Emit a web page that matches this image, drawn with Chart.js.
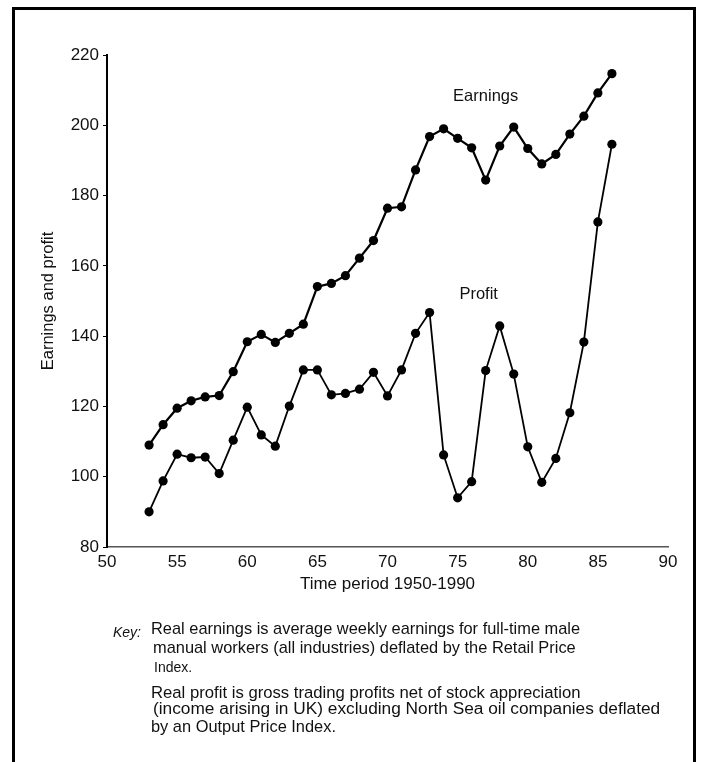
<!DOCTYPE html>
<html>
<head>
<meta charset="utf-8">
<script src="https://cdn.jsdelivr.net/npm/chart.js@4.4.1/dist/chart.umd.min.js"></script>
<style>
    body { margin: 0; background: #fff; }
    #page { position: relative; width: 701px; height: 762px; overflow: hidden; font-family: "Liberation Sans", Arial, sans-serif; color: #111; }
    #frame { position: absolute; left: 12px; top: 7px; width: 678px; height: 800px; border: 3px solid #000; border-bottom: none; }
    #chart { position: absolute; left: 0; top: 0; }
    .key { position: absolute; font-size: 16.4px; line-height: 19px; white-space: nowrap; }
</style>
</head>
<body>
<div id="page">
    <div id="frame"></div>
    <canvas id="chart" width="701" height="762"></canvas>
    <div class="key" style="left:113px; top:623px; font-style:italic; font-size:14px;">Key:</div>
    <div class="key" style="left:151px; top:619px;">Real earnings is average weekly earnings for full-time male</div>
    <div class="key" style="left:153px; top:638px;">manual workers (all industries) deflated by the Retail Price</div>
    <div class="key" style="left:154px; top:658px; font-size:14px;">Index.</div>
    <div class="key" style="left:151px; top:683px; font-size:16.7px;">Real profit is gross trading profits net of stock appreciation</div>
    <div class="key" style="left:153px; top:699px; font-size:17.3px;">(income arising in UK) excluding North Sea oil companies deflated</div>
    <div class="key" style="left:151px; top:717px;">by an Output Price Index.</div>
</div>
<script>
const years = [53, 54, 55, 56, 57, 58, 59, 60, 61, 62, 63, 64, 65, 66, 67, 68, 69,
    70, 71, 72, 73, 74, 75, 76, 77, 78, 79, 80, 81, 82, 83, 84, 85, 86];

const earnings = [109.0, 114.8, 119.5, 121.6, 122.7, 123.1, 129.9, 138.4, 140.5, 138.2, 140.8, 143.4,
    154.1, 155.0, 157.2, 162.2, 167.2, 176.4, 176.8, 187.3, 196.8, 199.0, 196.3, 193.6,
    184.4, 194.1, 199.5, 193.4, 189.0, 191.7, 197.5, 202.6, 209.2, 214.7];

const profit = [90.0, 98.8, 106.4, 105.4, 105.6, 100.9, 110.4, 119.8, 111.9, 108.7, 120.1, 130.4,
    130.4, 123.3, 123.7, 124.9, 129.7, 123.0, 130.4, 140.8, 146.7, 106.2, 94.0, 98.6,
    130.2, 142.9, 129.2, 108.5, 98.4, 105.2, 118.2, 138.3, 172.5, 194.6];

// series names written next to the lines, in data coordinates
const seriesLabels = [
    { text: 'Earnings', x: 77.0, y: 208.3 },
    { text: 'Profit', x: 76.5, y: 151.9 }
];

const xTitle = 'Time period 1950-1990';
const yTitle = 'Earnings and profit';

Chart.defaults.font.family = '"Liberation Sans", Arial, sans-serif';
Chart.defaults.color = '#111';

function toPoints(values) {
    return years.map((yr, i) => ({ x: yr, y: values[i] }));
}

const lineLabels = {
    id: 'lineLabels',
    afterDatasetsDraw(chart) {
        const ctx = chart.ctx;
        const xs = chart.scales.x;
        const ys = chart.scales.y;
        ctx.save();
        ctx.font = '16.5px "Liberation Sans", Arial, sans-serif';
        ctx.fillStyle = '#111';
        ctx.textAlign = 'center';
        ctx.textBaseline = 'middle';
        seriesLabels.forEach(l => {
            ctx.fillText(l.text, xs.getPixelForValue(l.x), ys.getPixelForValue(l.y));
        });
        ctx.restore();
    }
};

new Chart(document.querySelector('#chart').getContext('2d'), {
    type: 'line',
    data: {
        datasets: [{
            label: 'Earnings',
            data: toPoints(earnings),
            borderColor: '#000',
            backgroundColor: '#000',
            borderWidth: 2.2,
            pointRadius: 4.6,
            pointBackgroundColor: '#000',
            pointBorderWidth: 0,
            tension: 0
        }, {
            label: 'Profit',
            data: toPoints(profit),
            borderColor: '#000',
            backgroundColor: '#000',
            borderWidth: 1.8,
            pointRadius: 4.6,
            pointBackgroundColor: '#000',
            pointBorderWidth: 0,
            tension: 0
        }]
    },
    options: {
        responsive: false,
        animation: false,
        layout: { padding: { left: 0, top: 55, right: 33, bottom: 165 } },
        plugins: {
            legend: { display: false },
            tooltip: { enabled: false }
        },
        scales: {
            x: {
                type: 'linear',
                min: 50,
                max: 90,
                afterFit: scale => { scale.height = 50; },
                grid: { display: false, drawTicks: false },
                border: { display: true, color: '#555', width: 1.5 },
                ticks: { stepSize: 5, padding: 5, font: { size: 17 }, color: '#111' },
                title: { display: true, text: xTitle, font: { size: 17 }, color: '#111', padding: { top: 0, bottom: 2 } }
            },
            y: {
                min: 80,
                max: 220,
                afterFit: scale => { scale.width = 107; },
                grid: { display: true, drawOnChartArea: false, drawTicks: true, tickLength: 4, color: '#000', lineWidth: 1 },
                border: { display: true, color: '#000', width: 2 },
                ticks: { stepSize: 20, padding: 4, font: { size: 17 }, color: '#111' },
                title: { display: true, text: yTitle, font: { size: 16.5 }, color: '#111', padding: { top: 39, bottom: 0 } }
            }
        }
    },
    plugins: [lineLabels]
});
</script>
</body>
</html>
